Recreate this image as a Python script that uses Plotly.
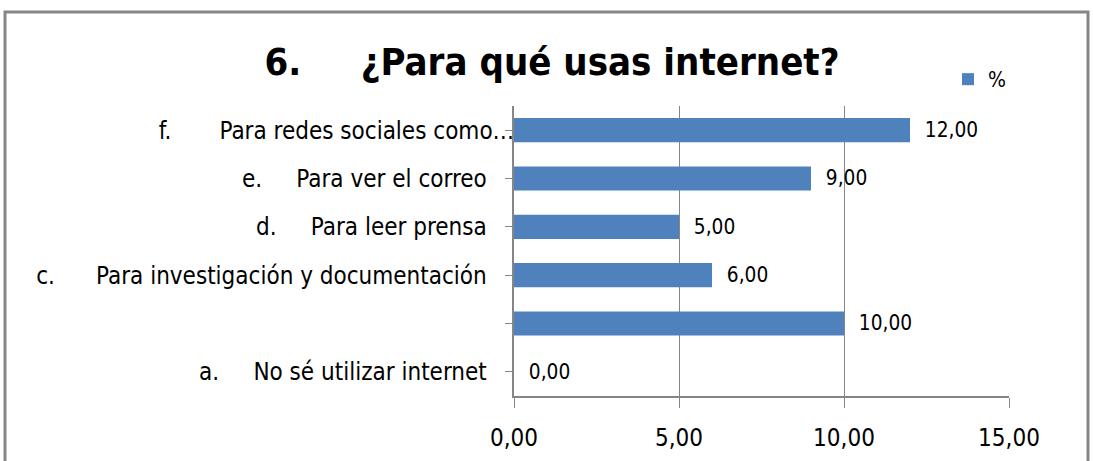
import plotly.graph_objects as go

# data (bottom -> top, as drawn)
letras = ['a.', 'b.', 'c.', 'd.', 'e.', 'f.']
textos = ['No sé utilizar internet', '', 'Para investigación y documentación',
          'Para leer prensa', 'Para ver el correo', 'Para redes sociales como…']
valores = [0, 10, 6, 5, 9, 12]
serie = '%'
x_ticks = [0, 5, 10, 15]

colors = {
    'bar': '#4F81BD',
    'grid': '#868686',
    'text': '#000000',
}
fuente = 'Liberation Sans Narrow, Arial Narrow, DejaVu Sans Condensed, sans-serif'

NB = '\u00a0'
espacios = [5, 0, 6, 5, 5, 7]
ticktext = []
for l, t, n in zip(letras, textos, espacios):
    if not t:
        ticktext.append('')
        continue
    pad = '' if t.endswith('…') else NB * 4
    ticktext.append(l + NB * n + t + pad)

cats = list(range(len(valores)))

fig = go.Figure(go.Bar(
    x=valores,
    y=cats,
    orientation='h',
    name=serie,
    marker=dict(color=colors['bar'], line=dict(width=0)),
    texttemplate=NB * 2 + '%{x:.2f}',
    textposition='outside',
    textfont=dict(size=24, color=colors['text'], family=fuente),
    cliponaxis=False,
))

W, H = 1093, 461
L, R, T, B = 514, 84, 106, 65
pw, ph = W - L - R, H - T - B

fig.update_layout(
    width=W, height=H,
    separators=',.',
    plot_bgcolor='white',
    paper_bgcolor='white',
    font=dict(family=fuente, color=colors['text'], size=24),
    margin=dict(l=L, r=R, t=T, b=B, autoexpand=False),
    bargap=0.5,
    title=dict(
        text='<b>6.' + NB * 5 + '¿Para qué usas internet?</b>',
        x=552 / W, xanchor='center',
        y=1 - 62 / H, yanchor='middle',
        font=dict(size=38, family=fuente),
    ),
    showlegend=True,
    legend=dict(
        x=(948 - L) / pw, y=1 + (T - 100) / ph,
        xanchor='left', yanchor='bottom',
        font=dict(size=21),
        bgcolor='rgba(0,0,0,0)',
        itemwidth=30,
    ),
    shapes=[dict(
        type='rect', xref='paper', yref='paper',
        x0=(5 - L) / pw, x1=(1088 - L) / pw,
        y0=-(480 - (H - B)) / ph, y1=((H - B) - 12) / ph,
        line=dict(color='#868686', width=3),
        layer='below',
    )],
)

fig.update_xaxes(
    range=[0, 15],
    tickvals=x_ticks,
    ticktext=[f'{v:.2f}'.replace('.', ',') for v in x_ticks],
    showgrid=True, gridcolor=colors['grid'], gridwidth=1,
    showline=True, linecolor=colors['grid'], linewidth=2,
    ticks='outside', ticklen=10, tickcolor=colors['grid'], tickwidth=1,
    ticklabelstandoff=9,
    tickfont=dict(size=24),
    zeroline=False,
    fixedrange=True,
)
fig.update_yaxes(
    range=[-0.5, len(valores) - 0.5],
    tickvals=cats,
    ticktext=ticktext,
    showgrid=False,
    showline=True, linecolor=colors['grid'], linewidth=2,
    ticks='outside', ticklen=7, tickcolor=colors['grid'],
    tickson='boundaries',
    ticklabelstandoff=-14,
    tickfont=dict(size=24),
    fixedrange=True,
)

# el navegador deja 8px de margen en <body>
fig.write_html('out.html', config={'displayModeBar': False},
               post_script="document.body.style.margin='0';")
